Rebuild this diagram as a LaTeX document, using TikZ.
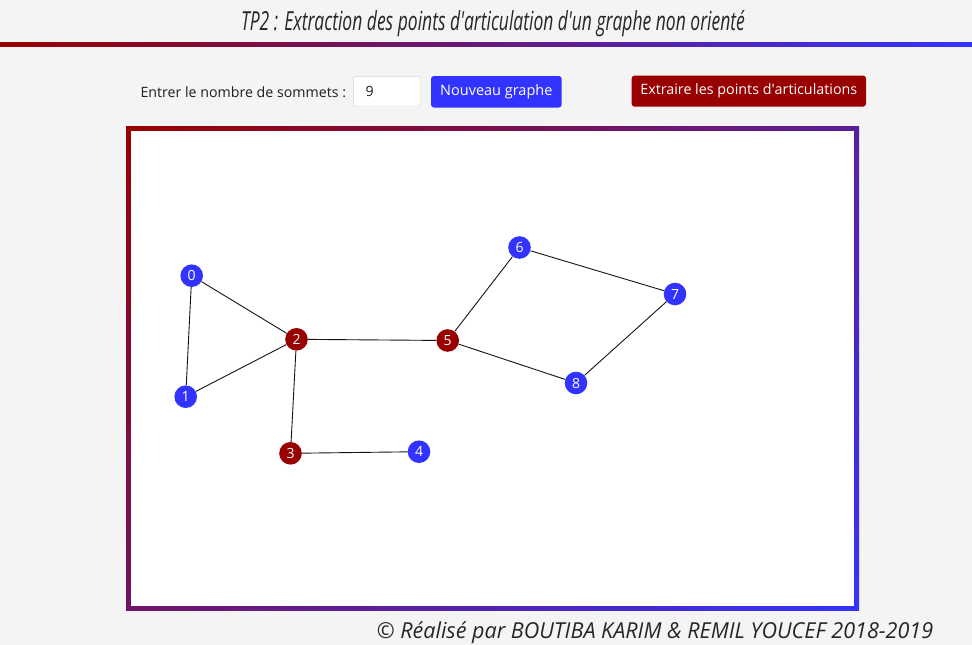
\documentclass[tikz,border=0pt]{standalone}
\usepackage{fontspec}
\setmainfont{Open Sans}
\definecolor{bgc}{RGB}{244,244,244}
\definecolor{rdc}{RGB}{153,0,0}
\definecolor{blc}{RGB}{51,51,255}
\definecolor{inbord}{RGB}{206,212,218}
\definecolor{edgec}{RGB}{20,20,20}
\tikzset{
  vtx/.style={circle,inner sep=0pt,minimum size=22.6pt,text=white,
    font=\fontsize{14}{14}\selectfont},
  bvtx/.style={vtx,fill=blc},
  rvtx/.style={vtx,fill=rdc},
  edg/.style={draw=edgec,line width=0.9pt},
  btn/.style={inner sep=0pt,text=white,
    font=\fontsize{14.5}{14.5}\selectfont},
  uitext/.style={font=\fontsize{14.2}{14.2}\selectfont,text=black!88},
  hand/.style={font=\itshape,text=black!85}
}
\begin{document}
\begin{tikzpicture}[x=1pt,y=-1pt]
\fill[bgc] (0,0) rectangle (972,645);
\useasboundingbox (0,0) rectangle (972,645);
% title
\node[hand,anchor=center] (title) at (493,24) {\scalebox{0.70}[1.05]{\fontsize{25}{25}\selectfont TP2 : Extraction des points d\textquotesingle articulation d\textquotesingle un graphe non orienté}};
\shade[left color=rdc,right color=blc] (0,42) rectangle (972,46.5);
% controls
\node[uitext,anchor=west] (lbl) at (137,92) {Entrer le nombre de sommets :};
\draw[inbord,fill=white,rounded corners=3pt] (353.3,76.3) rectangle (420.7,106);
\node[uitext,anchor=west] (nb) at (362,91.5) {9};
\fill[blc,rounded corners=3pt] (431,76) rectangle (561.7,107.5);
\node[btn] (nouv) at (496.3,91.5) {Nouveau graphe};
\fill[rdc,rounded corners=3pt] (631.7,75.5) rectangle (866,106.7);
\node[btn,font=\fontsize{14.3}{14.3}\selectfont] (extr) at (748.8,91) {Extraire les points d\textquotesingle articulations};
% frame with diagonal gradient
\begin{scope}
\clip (126,126) rectangle (859,610);
\foreach \i in {0,...,99}{
  \pgfmathsetmacro{\ca}{252+12.17*\i}
  \pgfmathsetmacro{\cb}{252+12.17*(\i+1)+0.8}
  \pgfmathsetmacro{\pp}{100-\i-0.5}
  \fill[color=rdc!\pp!blc] (\ca,0) -- (\cb,0) -- (\cb-700,700) -- (\ca-700,700) -- cycle;
}
\end{scope}
\fill[white] (131,131) rectangle (854,605.5);
% graph
\node[bvtx] (n0) at (191.7,275.7) {0};
\node[bvtx] (n1) at (185.7,396.7) {1};
\node[rvtx] (n2) at (296.5,339.3) {2};
\node[rvtx] (n3) at (290.5,453.3) {3};
\node[bvtx] (n4) at (419,451.7) {4};
\node[rvtx] (n5) at (447.7,340.5) {5};
\node[bvtx] (n6) at (519.5,247.5) {6};
\node[bvtx] (n7) at (675,294) {7};
\node[bvtx] (n8) at (576,383) {8};
\draw[edg] (n0) -- (n1);
\draw[edg] (n0) -- (n2);
\draw[edg] (n1) -- (n2);
\draw[edg] (n2) -- (n5);
\draw[edg] (n2) -- (n3);
\draw[edg] (n3) -- (n4);
\draw[edg] (n5) -- (n6);
\draw[edg] (n6) -- (n7);
\draw[edg] (n7) -- (n8);
\draw[edg] (n8) -- (n5);
% footer
\node[hand,anchor=center] (foot) at (655,633) {\scalebox{0.98}[1]{\fontsize{22}{22}\selectfont © Réalisé par BOUTIBA KARIM \& REMIL YOUCEF 2018-2019}};
\end{tikzpicture}
\end{document}
